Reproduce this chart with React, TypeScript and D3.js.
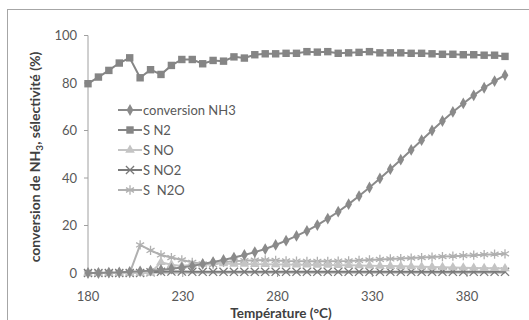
import React from "react";
import * as d3 from "d3";

const temps: number[] = d3.range(41).map((i) => 180 + i * 5.5);

const conversionNH3 = [0, 0, 0.2, 0.3, 0.5, 0.7, 1, 1.3, 1.8, 2.3, 3, 3.8, 4.6, 5.5, 6.5, 7.6, 8.8, 10.1, 11.8, 13.6, 15.6, 17.7, 20.2, 22.9, 25.8, 29, 32.4, 36, 39.8, 43.7, 47.7, 51.8, 55.9, 60, 64, 67.8, 71.4, 74.8, 78, 80.8, 83.3];
const sN2 = [79.7, 82.5, 85.3, 88.4, 90.6, 82.2, 85.6, 83.6, 87.4, 89.9, 89.9, 88.1, 89.5, 89.2, 91, 90.5, 91.9, 92.3, 92.3, 92.5, 92.5, 93.2, 93, 93.2, 92.5, 92.7, 92.9, 93.2, 92.7, 92.7, 92.7, 92.5, 92.5, 92.3, 92.1, 92.1, 91.9, 91.9, 91.7, 91.7, 91.2];
const sNO = [0, 0, 0, 0, 0, 0, 0, 4.5, 3.5, 3, 3.5, 3.8, 4.5, 4, 3.8, 3.8, 3.7, 3.7, 3.6, 3.6, 3.5, 3.5, 3.4, 3.4, 3.3, 3.3, 3.2, 3.1, 3, 2.9, 2.8, 2.7, 2.6, 2.5, 2.4, 2.3, 2.2, 2.1, 2, 2, 1.9];
const sNO2 = [0, 0, 0, 0, 0, 0, 0.3, 0.5, 0.6, 0.6, 0.5, 0.5, 0.5, 0.5, 0.5, 0.5, 0.5, 0.5, 0.5, 0.5, 0.5, 0.5, 0.5, 0.5, 0.5, 0.5, 0.5, 0.5, 0.5, 0.5, 0.5, 0.5, 0.5, 0.5, 0.5, 0.5, 0.5, 0.5, 0.5, 0.5, 0.5];
const sN2O = [0, 0, 0, 0, 0, 11.8, 9.5, 7.6, 6.5, 5.5, 4.5, 3.8, 3.5, 4.5, 5, 5.2, 5.4, 5.5, 5.3, 5.1, 5, 4.9, 4.9, 4.9, 5, 5.1, 5.3, 5.5, 5.7, 5.9, 6.1, 6.3, 6.5, 6.7, 6.9, 7.1, 7.3, 7.5, 7.7, 7.9, 8.1];

const xTicks = [180, 230, 280, 330, 380];
const yTicks = [0, 20, 40, 60, 80, 100];

const seriesNames = ["conversion NH3", "S N2", "S NO", "S NO2", "S  N2O"];

type Series = { name: string; values: number[]; color: string; symbol: d3.SymbolType; size: number; filled: boolean };

const series: Series[] = [
  { name: seriesNames[0], values: conversionNH3, color: "#8a8a8a", symbol: d3.symbolDiamond, size: 40, filled: true },
  { name: seriesNames[1], values: sN2, color: "#858585", symbol: d3.symbolSquare, size: 55, filled: true },
  { name: seriesNames[2], values: sNO, color: "#c4c4c4", symbol: d3.symbolTriangle, size: 40, filled: true },
  { name: seriesNames[3], values: sNO2, color: "#7a7a7a", symbol: d3.symbolX, size: 45, filled: false },
  { name: seriesNames[4], values: sN2O, color: "#b0b0b0", symbol: d3.symbolAsterisk, size: 60, filled: false },
];

export default function App() {
  const W = 529;
  const H = 320;
  const x = d3.scaleLinear().domain([180, 400]).range([88, 505]);
  const y = d3.scaleLinear().domain([0, 100]).range([273, 35.5]);
  const font = "Lato, 'Open Sans', sans-serif";

  const line = (vals: number[]) =>
    d3.line<number>().x((_, i) => x(temps[i])).y((v) => y(v))(vals) || "";

  const drawOrder = [4, 3, 2, 0, 1];

  return (
    <svg width={W} height={H} style={{ position: "absolute", left: 0, top: 0, background: "#fff" }}>
      <rect x={0} y={0} width={W} height={H} fill="#fff" />
      <rect x={7.5} y={9.5} width={540} height={330} fill="none" stroke="#a6a6a6" strokeWidth={1} />
      {/* axes */}
      <line x1={88} x2={88} y1={y(100)} y2={y(0)} stroke="#a0a0a0" strokeWidth={1} />
      <line x1={88} x2={x(400)} y1={y(0)} y2={y(0)} stroke="#a0a0a0" strokeWidth={1} />
      {yTicks.map((t) => (
        <g key={"y" + t}>
          <line x1={84} x2={88} y1={y(t)} y2={y(t)} stroke="#a0a0a0" />
          <text x={77} y={y(t)} dy="0.35em" textAnchor="end" fontFamily={font} fontSize={13} fill="#595959">
            {t}
          </text>
        </g>
      ))}
      {xTicks.map((t) => (
        <g key={"x" + t}>
          <line x1={x(t)} x2={x(t)} y1={273} y2={277} stroke="#a0a0a0" />
          <text x={x(t)} y={296} dy="0.35em" textAnchor="middle" fontFamily={font} fontSize={13} fill="#595959">
            {t}
          </text>
        </g>
      ))}
      <text x={281} y={313} dy="0.35em" textAnchor="middle" fontFamily={font} fontSize={13.5} fontWeight="bold" fill="#404040">
        Température (°C)
      </text>
      <text
        transform={`translate(35,157) rotate(-90)`}
        textAnchor="middle"
        dy="0.35em"
        fontFamily={font}
        fontSize={14}
        fontWeight="bold"
        fill="#404040"
      >
        conversion de NH<tspan fontSize={10} dy={3}>3</tspan>
        <tspan dy={-3}>, sélectivité (%)</tspan>
      </text>
      {/* series */}
      {drawOrder.map((si) => {
        const s = series[si];
        const sym = d3.symbol().type(s.symbol).size(s.size)() || "";
        return (
          <g key={s.name}>
            <path d={line(s.values)} fill="none" stroke={s.color} strokeWidth={2} />
            {s.values.map((v, i) => (
              <path
                key={i}
                d={sym}
                transform={`translate(${x(temps[i])},${y(v)})`}
                fill={s.filled ? s.color : "none"}
                stroke={s.color}
                strokeWidth={s.filled ? 0 : 1.3}
              />
            ))}
          </g>
        );
      })}
      {/* legend */}
      {series.map((s, i) => {
        const ly = 110 + i * 20;
        const sym = d3.symbol().type(s.symbol).size(s.size)() || "";
        return (
          <g key={"lg" + s.name}>
            <line x1={118} x2={142} y1={ly} y2={ly} stroke={s.color} strokeWidth={2} />
            <path
              d={sym}
              transform={`translate(130,${ly})`}
              fill={s.filled ? s.color : "none"}
              stroke={s.color}
              strokeWidth={s.filled ? 0 : 1.3}
            />
            <text x={143} y={ly} dy="0.35em" fontFamily={font} fontSize={13} fill="#595959" style={{ whiteSpace: "pre" }}>
              {s.name}
            </text>
          </g>
        );
      })}
    </svg>
  );
}
